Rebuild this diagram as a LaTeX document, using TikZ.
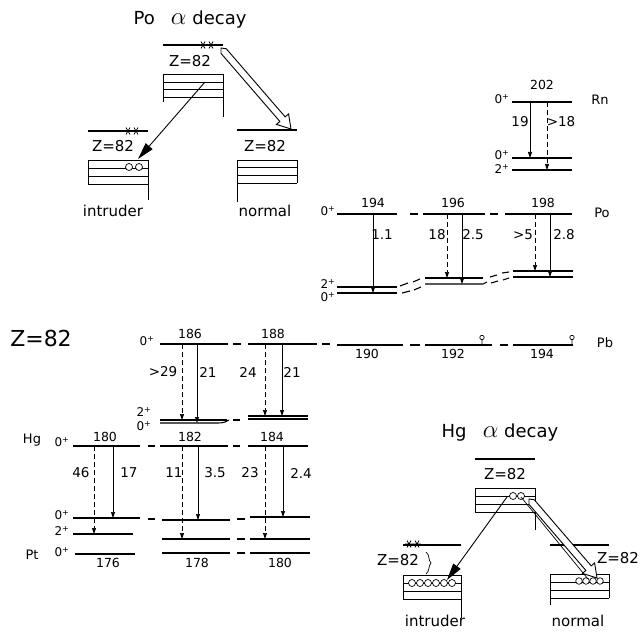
\documentclass[tikz,border=0pt]{standalone}
\usepackage{fontspec}
\setmainfont{DejaVu Sans}
\usetikzlibrary{arrows.meta,calc}
\newcommand{\jp}{\textsuperscript{+}}
% open double arrow from #1 to #2
\newcommand{\hollowarrow}[2]{%
  \coordinate (hb) at ($(#2)!13pt!(#1)$);
  \coordinate (ht) at ($(#1)!4pt!(#2)$);
  \draw[hollow] (#1) -- ($(ht)!3.5pt!90:(#2)$) -- ($(hb)!3.5pt!-90:(#1)$)
    -- ($(hb)!8pt!-90:(#1)$) -- (#2) -- ($(hb)!8pt!90:(#1)$)
    -- ($(hb)!3.5pt!90:(#1)$) -- ($(ht)!3.5pt!-90:(#2)$) -- cycle;}

\begin{document}
\begin{tikzpicture}[x=1pt,y=-1pt,
 every node/.style={font=\fontsize{12.5}{14}\selectfont, inner sep=1pt},
 lev/.style={line width=1.1pt},
 tr/.style={line width=0.7pt, -{Triangle[length=6pt,width=4pt]}},
 trd/.style={tr, dash pattern=on 5pt off 3pt},
 val/.style={font=\fontsize{13.5}{15}\selectfont},
 spin/.style={font=\fontsize{12}{12}\selectfont, inner sep=0pt},
 elem/.style={font=\fontsize{13}{15}\selectfont},
 ttl/.style={font=\fontsize{18}{22}\selectfont},
 zlab/.style={font=\fontsize{15}{18}\selectfont},
 big/.style={font=\fontsize{22}{26}\selectfont},
 shl/.style={line width=0.9pt},
 orb/.style={line width=0.7pt},
 pairarrow/.style={line width=0.9pt, -{Triangle[length=17pt,width=9pt]}},
 hollow/.style={line width=0.9pt, fill=white, line join=miter},
 astk/.pic={\draw[line width=0.8pt] (-4,0) -- (4,0) (-2,-3.4) -- (2,3.4) (-2,3.4) -- (2,-3.4);}]
\useasboundingbox (0,0) rectangle (642,636);

% ---- Rn
\node (n202) at (542,85) {202};
\node[elem] (rn) at (600,100) {Rn};
\draw[lev] (512,102) -- (572,102);
\draw[lev] (512,158) -- (572,158);
\draw[lev] (512,170) -- (572,170);
\node[spin] (rn0a) at (502,99) {0\jp};
\node[spin] (rn0b) at (502,155) {0\jp};
\node[spin] (rn2) at (502,169) {2\jp};
\node[val] (t19) at (520,122) {19};
\node[val] (t18) at (561,122) {>18};

% ---- Po
\node (n194) at (373,203) {194};
\node (n196) at (453,203) {196};
\node (n198) at (543,203) {198};
\node[elem] (po) at (602,213) {Po};
\node[spin] (po0a) at (328,211) {0\jp};
\node[spin] (po2) at (328,284) {2\jp};
\node[spin] (po0b) at (328,297) {0\jp};
\draw[lev] (337,214) -- (397,214);
\draw[lev] (410,214) -- (418,214);
\draw[lev] (423,214) -- (485,214);
\draw[lev] (490,214) -- (498,214);
\draw[lev] (505,214) -- (572,214);
\draw[lev] (337,287) -- (397,287);
\draw[lev] (337,293) -- (397,293);
\draw[lev] (425,278) -- (483,278);
\draw[lev] (425,284) -- (483,284) -- (487,282);
\draw[lev] (513,271) -- (573,271);
\draw[lev] (513,277) -- (573,277);
\draw[lev] (400,286) -- (408,283) (413,282) -- (420,279);
\draw[lev] (402,293) -- (410,291) (414,290) -- (421,287);
\draw[lev] (490,277) -- (497,275) (502,273) -- (509,272);
\draw[lev] (491,283) -- (498,281) (503,280) -- (509,278);
\node[val] (t11) at (382,235) {1.1};
\node[val] (t18b) at (437,235) {18};
\node[val] (t25) at (473,235) {2.5};
\node[val] (t5) at (523,235) {>5};
\node[val] (t28) at (564,235) {2.8};

% ---- Pb
\node[big] (z82) at (41,338) {Z=82};
\node (n186) at (190,334) {186};
\node (n188) at (273,334) {188};
\node (n190) at (367,354) {190};
\node (n192) at (453,354) {192};
\node (n194b) at (542,354) {194};
\node[elem] (pb) at (605,343) {Pb};
\node[spin] (pb0a) at (147,341) {0\jp};
\node[spin] (pb2) at (144,412) {2\jp};
\node[spin] (pb0b) at (144,426) {0\jp};
\draw[lev] (160,344) -- (228,344);
\draw[lev] (233,344) -- (241,344);
\draw[lev] (248,344) -- (317,344);
\draw[lev] (322,344) -- (330,344);
\draw[lev] (337,345) -- (403,345);
\draw[lev] (410,345) -- (420,345);
\draw[lev] (425,345) -- (492,345);
\draw[lev] (500,345) -- (508,345);
\draw[lev] (513,345) -- (573,345);
\foreach \x in {482,572}
  \draw[orb] (\x,345) -- (\x,340) (\x,337.5) circle (2.2pt);
\draw[lev] (160,420) -- (227,420);
\draw[lev] (160,423) -- (218,423) .. controls (223,423) and (226,422) .. (229,420);
\draw[lev] (233,420) -- (240,420);
\draw[lev] (248,416) -- (308,416);
\draw[lev] (248,419) -- (308,419);
\node[val] (t29) at (163,372) {>29};
\node[val] (t21a) at (208,372) {21};
\node[val] (t24) at (248,372) {24};
\node[val] (t21b) at (292,372) {21};

% ---- Hg and Pt
\node[elem] (hg) at (32,440) {Hg};
\node[elem] (pt) at (32,555) {Pt};
\node (n180) at (105,437) {180};
\node (n182) at (190,437) {182};
\node (n184) at (272,437) {184};
\node (n176) at (108,563) {176};
\node (n178) at (197,563) {178};
\node (n180b) at (280,563) {180};
\node[spin] (hg0a) at (62,442) {0\jp};
\node[spin] (hg0b) at (62,515) {0\jp};
\node[spin] (hg2) at (62,531) {2\jp};
\node[spin] (pt0) at (62,552) {0\jp};
\draw[lev] (73,446) -- (140,446);
\draw[lev] (148,446) -- (155,446);
\draw[lev] (160,446) -- (228,446);
\draw[lev] (233,446) -- (240,446);
\draw[lev] (248,446) -- (308,446);
\draw[lev] (73,518) -- (140,518);
\draw[lev] (73,534) -- (133,534);
\draw[lev] (75,554) -- (135,554);
\draw[lev] (148,519) -- (155,519);
\draw[lev] (162,520) -- (230,520);
\draw[lev] (162,539) -- (230,539);
\draw[lev] (162,553) -- (230,553);
\foreach \y in {519,539,553}
  \draw[lev] (237,\y) -- (245,\y);
\draw[lev] (250,517) -- (310,517);
\draw[lev] (250,539) -- (310,539);
\draw[lev] (250,553) -- (310,553);
\node[val] (t46) at (81,473) {46};
\node[val] (t17) at (129,473) {17};
\node[val] (t11b) at (174,473) {11};
\node[val] (t35) at (215,473) {3.5};
\node[val] (t23) at (250,473) {23};
\node[val] (t24b) at (301,473) {2.4};

% ---- transitions
\foreach \x/\ya/\yb in {530/102/158, 373/214/293, 462/214/284, 550/214/277,
  197/344/423, 282/344/416, 113/446/518, 198/446/520, 283/446/517}
  \draw[tr] (\x,\ya) -- (\x,\yb);
\foreach \x/\ya/\yb in {547/102/170, 447/214/278, 535/214/271,
  182/344/420, 265/344/416, 94/446/534, 182/446/539, 265/446/539}
  \draw[trd] (\x,\ya) -- (\x,\yb);

% ---- Po alpha decay
\node[ttl] (poTitle) at (190,20) {Po\hspace{0.9em}{\fontsize{24}{24}\selectfont$\alpha$} decay};
\draw[lev] (163,45) -- (223,45);
\pic at (203,45) {astk};
\pic at (211,45) {astk};
\node[zlab] (poZp) at (190,61) {Z=82};
\foreach \y in {74,82,89,97}
  \draw[shl] (163,\y) -- (223,\y);
\draw[shl] (163,74) -- (163,102);
\draw[shl] (223,74) -- (223,117);
\draw[lev] (88,131) -- (148,131);
\pic at (128,131) {astk};
\pic at (136,131) {astk};
\node[zlab] (poZi) at (113,146) {Z=82};
\foreach \y in {160,168,176,184}
  \draw[shl] (88,\y) -- (148,\y);
\draw[shl] (88,160) -- (88,184);
\draw[shl] (148,160) -- (148,200);
\foreach \x in {129,139}
  \draw[orb,fill=white] (\x,167) circle (3.5pt);
\node[zlab] (poInt) at (113,211) {intruder};
\draw[lev] (237,130) -- (297,130);
\node[zlab] (poZn) at (265,146) {Z=82};
\foreach \y in {160,167,175,183}
  \draw[shl] (237,\y) -- (297,\y);
\draw[shl] (237,160) -- (237,202);
\draw[shl] (297,160) -- (297,183);
\node[zlab] (poNor) at (265,211) {normal};
\coordinate (poA) at (205,82);
\coordinate (poB) at (138,159);
\draw[pairarrow] (poA) -- (poB);
\coordinate (poC) at (221,48);
\coordinate (poD) at (291,129);
\hollowarrow{poC}{poD}

% ---- Hg alpha decay
\node[ttl] (hgTitle) at (500,433) {Hg\hspace{0.9em}{\fontsize{24}{24}\selectfont$\alpha$} decay};
\draw[lev] (475,459) -- (535,459);
\node[zlab] (hgZp) at (505,474) {Z=82};
\foreach \y in {488,496,504,512}
  \draw[shl] (475,\y) -- (535,\y);
\draw[shl] (475,488) -- (475,512);
\draw[shl] (535,488) -- (535,530);
\foreach \x in {513,521}
  \draw[orb,fill=white] (\x,496) circle (3.5pt);
\draw[lev] (403,545) -- (461,545);
\pic at (409,544) {astk};
\pic at (417,544) {astk};
\node[zlab] (hgZi) at (398,560) {Z=82};
\draw[orb] (426,552) .. controls (430,555) and (428,560) .. (431,563)
  .. controls (428,566) and (430,571) .. (426,574);
\foreach \y in {575,583,591,599}
  \draw[shl] (403,\y) -- (461,\y);
\draw[shl] (403,575) -- (403,599);
\draw[shl] (461,575) -- (461,618);
\foreach \x in {412,420,...,452}
  \draw[orb,fill=white] (\x,583) circle (3.5pt);
\node[zlab] (hgInt) at (435,621) {intruder};
\draw[lev] (550,545) -- (609,545);
\node[zlab] (hgZn) at (618,558) {Z=82};
\foreach \y in {574,582,590,598}
  \draw[shl] (550,\y) -- (609,\y);
\draw[shl] (550,574) -- (550,605);
\draw[shl] (609,574) -- (609,598);
\foreach \x in {579,586,593,600}
  \draw[orb,fill=white] (\x,581) circle (3.3pt);
\node[zlab] (hgNor) at (578,621) {normal};
\coordinate (hgA) at (507,497);
\coordinate (hgB) at (447,580);
\draw[pairarrow] (hgA) -- (hgB);
\coordinate (hgC) at (521,497);
\coordinate (hgD) at (588,579);
\draw[orb] (hgC) -- (hgD);
\coordinate (hgE) at (529,499);
\coordinate (hgF) at (597,578);
\hollowarrow{hgE}{hgF}
\end{tikzpicture}
\end{document}
